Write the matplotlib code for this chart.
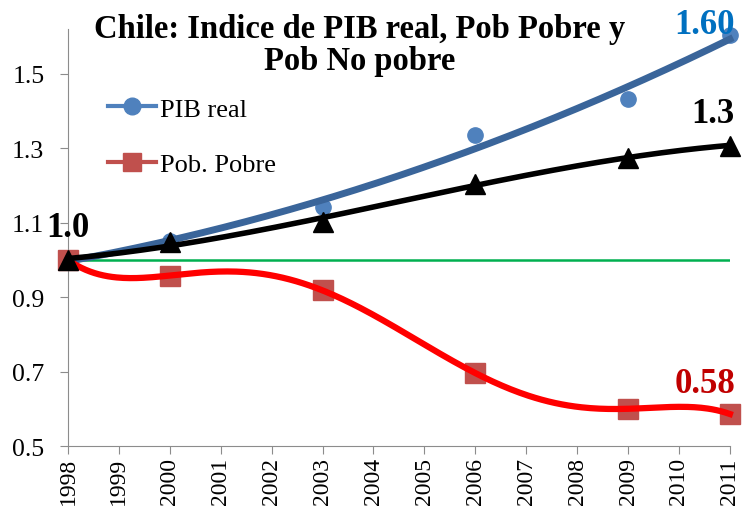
import matplotlib
matplotlib.use("Agg")
import matplotlib.pyplot as plt
import numpy as np

plt.rcParams["font.family"] = ["Liberation Serif", "DejaVu Serif"]

years = [1998, 2000, 2003, 2006, 2009, 2011]
pib_real = [1.00, 1.05, 1.143, 1.336, 1.433, 1.605]
pob_pobre = [1.00, 0.958, 0.918, 0.696, 0.600, 0.586]
pob_no_pobre = [1.00, 1.047, 1.103, 1.205, 1.275, 1.307]
base = [1.0, 1.0]
year_ticks = list(range(1998, 2012))
y_ticks = [0.5, 0.7, 0.9, 1.1, 1.3, 1.5]

# trend curves fitted to the points (as in the original spreadsheet chart)
xs = np.linspace(1998, 2011, 300)
x0 = 1998
pib_fit = np.polyval(np.polyfit(np.array(years) - x0, pib_real, 2), xs - x0)
pobre_fit = np.polyval(np.polyfit(np.array(years) - x0, pob_pobre, 5), xs - x0)
nopobre_fit = np.polyval(np.polyfit(np.array(years) - x0, pob_no_pobre, 3), xs - x0)

fig = plt.figure(figsize=(7.44, 5.10), dpi=100)
ax = fig.add_axes([0.0914, 0.1235, 0.8896, 0.8175])

ax.plot([1998, 2011], base, color="#00B050", linewidth=1.8, zorder=1)

ax.plot(xs, pib_fit, color="#3A659A", linewidth=5, zorder=3, clip_on=False)
ax.plot(years, pib_real, "o", color="#4F81BD", markersize=11, zorder=2, clip_on=False)

ax.plot(xs, pobre_fit, color="#FF0000", linewidth=4.5, zorder=3, clip_on=False)
ax.plot(years, pob_pobre, "s", color="#C0504D", markersize=14, zorder=2, clip_on=False)

ax.plot(xs, nopobre_fit, color="black", linewidth=4, zorder=4, clip_on=False)
ax.plot(years, pob_no_pobre, "^", color="black", markersize=14, zorder=5, clip_on=False)

# legend (only two entries, like the original)
ax.plot([], [], "-o", color="#4F81BD", linewidth=3, markersize=12, label="PIB real")
ax.plot([], [], "-s", color="#C0504D", linewidth=3, markersize=13, label="Pob. Pobre")
ax.legend(loc="upper left", bbox_to_anchor=(0.045, 0.862), frameon=False,
          fontsize=19, handlelength=1.8, handletextpad=0.15, labelspacing=1.2,
          borderaxespad=0)

ax.text(1998, 1.063, "1.0", fontsize=25, fontweight="bold", ha="center", va="baseline")
ax.text(2011.1, 1.61, "1.60", fontsize=25, fontweight="bold", color="#0070C0",
        ha="right", va="baseline", clip_on=False)
ax.text(2011.1, 1.371, "1.3", fontsize=25, fontweight="bold", ha="right", va="baseline")
ax.text(2011.1, 0.645, "0.58", fontsize=25, fontweight="bold", color="#C00000",
        ha="right", va="baseline")

fig.text(0.484, 0.972, "Chile: Indice de PIB real, Pob Pobre y\nPob No pobre",
         fontsize=23.5, fontweight="bold", ha="center", va="top", linespacing=1.05)

ax.set_xlim(1998, 2011)
ax.set_ylim(0.5, 1.62)
ax.set_xticks(year_ticks)
ax.set_xticklabels([str(y) for y in year_ticks], rotation=90, fontsize=17)
ax.set_yticks(y_ticks)
ax.set_yticklabels([f"{v:.1f}" for v in y_ticks], fontsize=18.5)
for s in ["top", "right"]:
    ax.spines[s].set_visible(False)
for s in ["left", "bottom"]:
    ax.spines[s].set_color("#8C8C8C")
ax.tick_params(axis="both", direction="out", color="#8C8C8C", length=6)
ax.tick_params(axis="y", pad=11)
ax.tick_params(axis="x", pad=2)

fig.savefig("out.png", dpi=100)
